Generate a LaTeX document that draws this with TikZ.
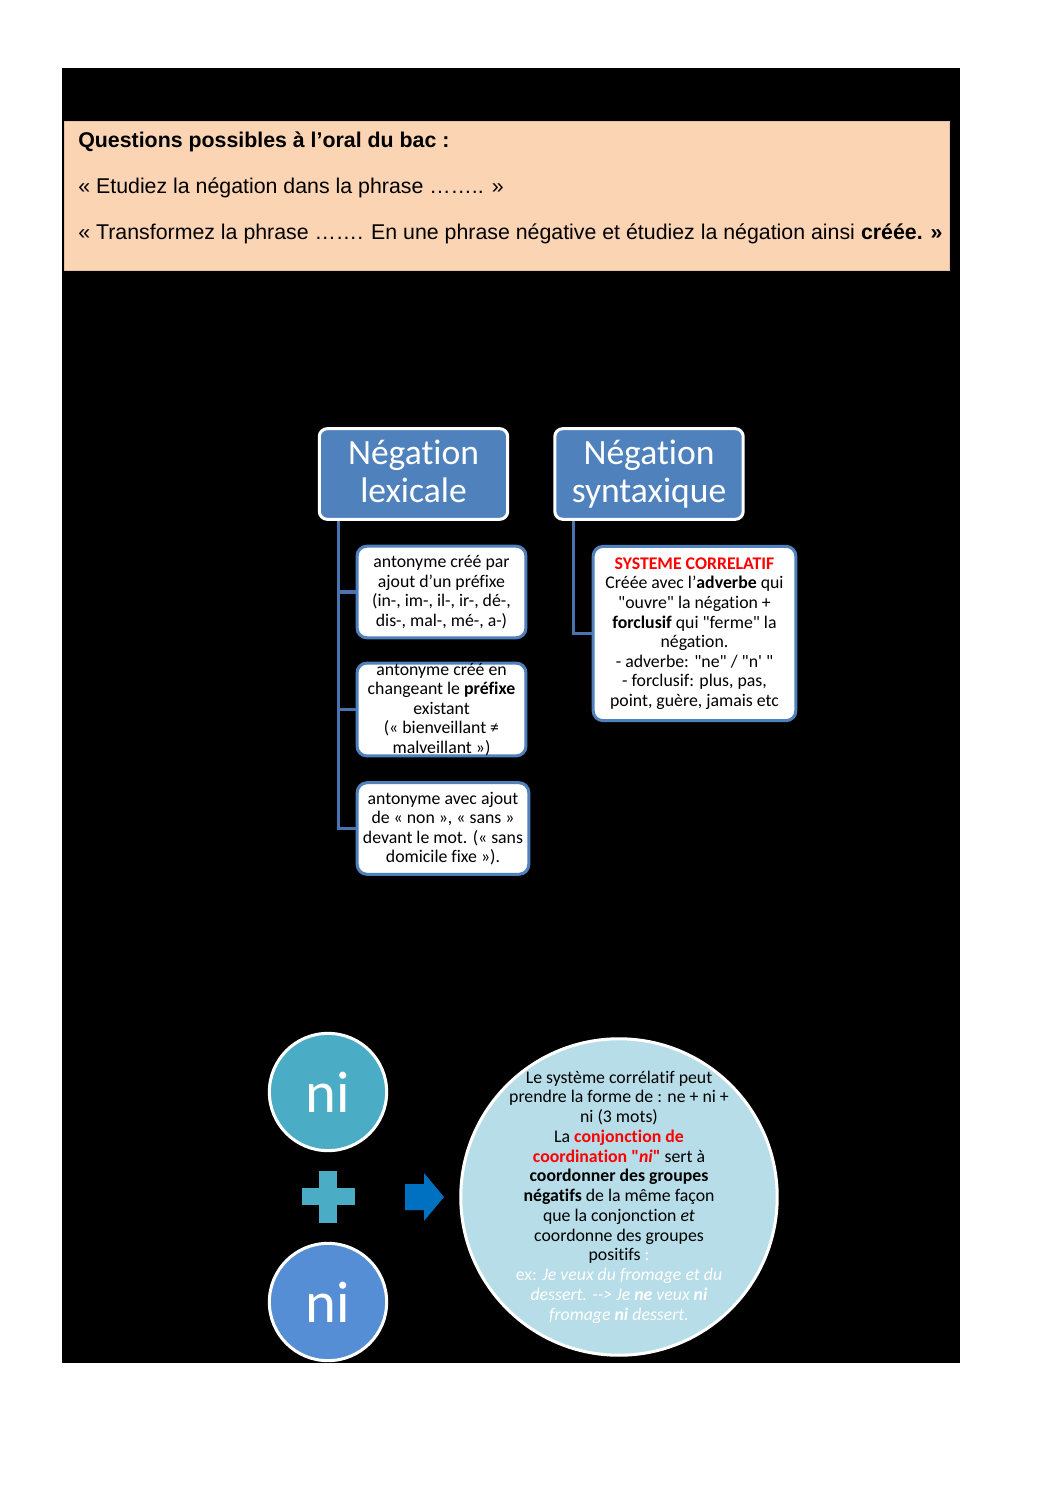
\documentclass[tikz,border=0pt]{standalone}
\usepackage{fontspec}
\setmainfont{Carlito}[Ligatures={TeXOff,CommonOff}]
\newfontfamily\arialfont{Liberation Sans}[Ligatures=TeXOff]
\usepackage{xcolor}
\definecolor{titleblue}{HTML}{4F81BD}
\definecolor{linkblue}{HTML}{4A74B0}
\definecolor{peach}{HTML}{FBD4B4}
\definecolor{nicyan}{HTML}{4BACC6}
\definecolor{niblue}{HTML}{558ED5}
\definecolor{arrowblue}{HTML}{0070C0}
\definecolor{palecyan}{HTML}{B7DDE8}
\definecolor{hotred}{HTML}{FF0000}

\begin{document}
\begin{tikzpicture}[x=0.5625pt,y=-0.5625pt,
  titlebox/.style={draw=white, line width=1.7pt, fill=titleblue, rounded corners=4.5pt,
    text=white, font=\fontsize{20}{21.5}\selectfont, align=center, inner sep=0pt,
    minimum width=106pt, minimum height=51pt},
  itembox/.style={draw=titleblue, line width=1.7pt, fill=white, rounded corners=5.5pt,
    font=\fontsize{10}{11}\selectfont, align=center, inner sep=0pt,
    minimum width=95pt, minimum height=51.5pt},
  link/.style={draw=linkblue, line width=1.7pt},
  nidisc/.style={circle, draw=white, line width=1.7pt, text=white,
    font=\fontsize{33}{36}\selectfont, minimum size=66pt, inner sep=0pt},
  question/.style={font=\arialfont\fontsize{12}{14}\selectfont, anchor=base west, inner sep=0pt}
 ]
 \fill[white] (0,0) rectangle (1058,1497);
 \useasboundingbox (0,0) rectangle (1058,1497);
 \fill[black] (62,68) rectangle (960,1363);

 % questions
 \node[draw=peach!90!black, line width=0.3pt, fill=peach, anchor=north west, inner sep=0pt,
   minimum width=498pt, minimum height=83.8pt] (quest) at (64,121) {};
 \node[question] (q0) at (78,147) {\bfseries Questions possibles à l’oral du bac :};
 \node[question] (q1) at (78,193) {« Etudiez la négation dans la phrase …….. »};
 \node[question] (q2) at (78,239) {« Transformez la phrase ……. En une phrase négative et étudiez la négation ainsi \textbf{créée. »}};

 % two kinds of negation
 \node[titlebox] (lex) at (413.5,474) {Négation\\lexicale\vphantom{q}};
 \node[titlebox] (syn) at (649,474) {Négation\\syntaxique};

 \node[itembox] (lex1) at (441.5,592) {antonyme créé par\\ajout d’un préfixe\\(in-, im-, il-, ir-, dé-,\\dis-, mal-, mé-, a-)};
 \node[itembox] (lex2) at (441.5,709.5) {antonyme créé en\\changeant le \textbf{préfixe}\\existant\\(« bienveillant ≠\\malveillant »)};
 \node[itembox, minimum width=96.5pt] (lex3) at (443,828.5) {antonyme avec ajout\\de « non », « sans »\\devant le mot. (« sans\\domicile fixe »).};
 \node[itembox, minimum width=114pt, minimum height=98pt] (syn1) at (694.5,633.5)
   {\textcolor{hotred}{\textbf{SYSTEME CORRELATIF}}\\Créée avec l’\textbf{adverbe} qui\\"ouvre" la négation +\\\textbf{forclusif} qui "ferme" la\\négation.\\- adverbe: "ne" / "n' "\\- forclusif: plus, pas,\\point, guère, jamais etc};

 \draw[link] (lex.south west) ++(21,0) |- (lex3.west);
 \draw[link] (lex.south west) ++(21,0) |- (lex1.west);
 \draw[link] (lex.south west) ++(21,0) |- (lex2.west);
 \draw[link] (syn.south west) ++(20,0) |- (syn1.west);

 % ni + ni
 \node[nidisc, fill=nicyan] (ni1) at (328,1092) {ni};
 \node[nidisc, fill=niblue] (ni2) at (328,1302) {ni};
 \fill[nicyan] (302,1188) rectangle (355,1205);
 \fill[nicyan] (319,1171) rectangle (337,1223);
 \fill[arrowblue] (405,1184)--(424,1184)--(424,1173)--(444,1197)--(424,1221)--(424,1210)--(405,1210)--cycle;

 \node[circle, draw=white, line width=1.7pt, fill=palecyan, minimum size=178pt, inner sep=0pt] (corr) at (619,1197) {};
 \node[align=center, inner sep=0pt, font=\fontsize{10}{11.1}\selectfont] (corrtext) at (corr.center)
   {Le système corrélatif peut\\prendre la forme de : ne + ni +\\ni (3 mots)\\
    La \textcolor{hotred}{\textbf{conjonction de}}\\
    \textcolor{hotred}{\textbf{coordination "\textit{ni}"}} sert à\\
    \textbf{coordonner des groupes}\\\textbf{négatifs} de la même façon\\
    que la conjonction \textit{et}\\coordonne des groupes\\positifs \textcolor{white}{:}\\
    \textcolor{white}{ex: \textit{Je veux du fromage et du}}\\
    \textcolor{white}{\textit{dessert. --> Je \textbf{ne} veux \textbf{ni}}}\\
    \textcolor{white}{\textit{fromage \textbf{ni} dessert.}}};
\end{tikzpicture}
\end{document}
